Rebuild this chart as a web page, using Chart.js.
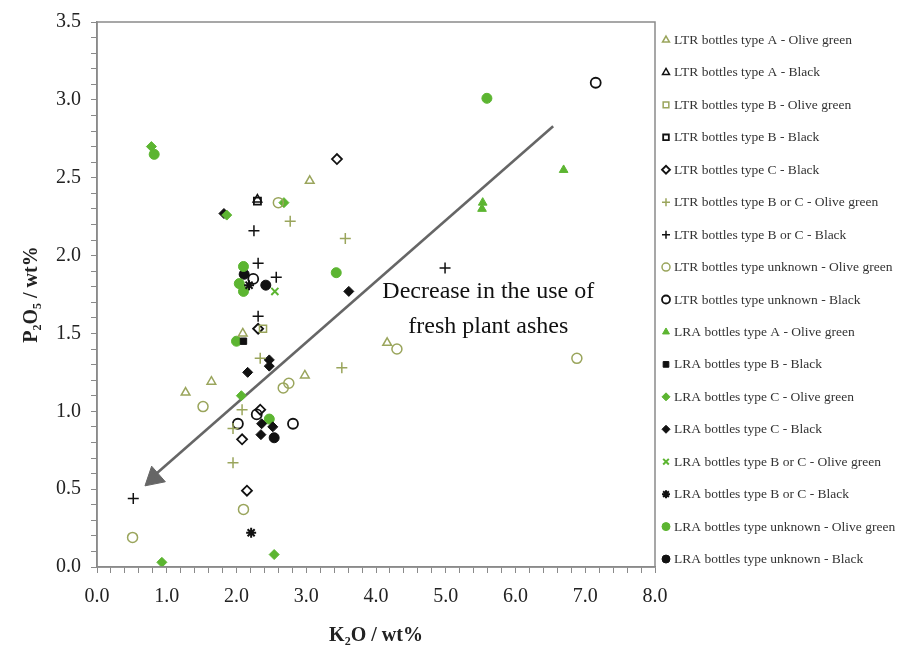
<!DOCTYPE html>
<html>
<head>
<meta charset="utf-8">
<script src="https://cdn.jsdelivr.net/npm/chart.js@4.4.1/dist/chart.umd.min.js"></script>
<style>
html,body{margin:0;padding:0;background:#fff;}
#wrap{position:relative;width:899px;height:649px;}
</style>
</head>
<body>
<div id="wrap"><canvas id="c" width="899" height="649"></canvas></div>
<script>
// ---------- data ----------
const seriesNames = [
  'LTR bottles type A - Olive green',
  'LTR bottles type A - Black',
  'LTR bottles type B - Olive green',
  'LTR bottles type B - Black',
  'LTR bottles type C - Black',
  'LTR bottles type B or C - Olive green',
  'LTR bottles type B or C - Black',
  'LTR bottles type unknown - Olive green',
  'LTR bottles type unknown - Black',
  'LRA bottles type A - Olive green',
  'LRA bottles type B - Black',
  'LRA bottles type C - Olive green',
  'LRA bottles type C - Black',
  'LRA bottles type B or C - Olive green',
  'LRA bottles type B or C - Black',
  'LRA bottles type unknown - Olive green',
  'LRA bottles type unknown - Black'
];
const ltrAOliveX = [1.27, 1.64, 2.09, 2.98, 3.05, 4.16];
const ltrAOliveY = [1.12, 1.19, 1.50, 1.23, 2.48, 1.44];
const ltrABlackX = [2.30];
const ltrABlackY = [2.36];
const ltrBOliveX = [2.38];
const ltrBOliveY = [1.53];
const ltrBBlackX = [2.30];
const ltrBBlackY = [2.35];
const ltrCBlackX = [3.44, 2.31, 2.34, 2.08, 2.15];
const ltrCBlackY = [2.62, 1.53, 1.01, 0.82, 0.49];
const ltrBCOliveX = [2.77, 3.56, 3.51, 2.34, 2.08, 1.95, 1.95];
const ltrBCOliveY = [2.22, 2.11, 1.28, 1.34, 1.01, 0.89, 0.67];
const ltrBCBlackX = [2.25, 2.31, 2.57, 2.31, 4.99, 0.52];
const ltrBCBlackY = [2.16, 1.95, 1.86, 1.61, 1.92, 0.44];
const ltrUnkOliveX = [2.60, 2.67, 2.75, 1.52, 2.10, 0.51, 6.88, 4.30];
const ltrUnkOliveY = [2.34, 1.15, 1.18, 1.03, 0.37, 0.19, 1.34, 1.40];
const ltrUnkBlackX = [7.15, 2.02, 2.29, 2.81, 2.24];
const ltrUnkBlackY = [3.11, 0.92, 0.98, 0.92, 1.85];
const lraAOliveX = [6.69, 5.53, 5.52];
const lraAOliveY = [2.55, 2.34, 2.30];
const lraBBlackX = [2.10];
const lraBBlackY = [1.45];
const lraCOliveX = [0.78, 1.86, 2.68, 2.07, 2.54, 0.93];
const lraCOliveY = [2.70, 2.26, 2.34, 1.10, 0.08, 0.03];
const lraCBlackX = [1.82, 2.47, 2.47, 2.16, 2.36, 2.52, 2.35, 3.61];
const lraCBlackY = [2.27, 1.33, 1.29, 1.25, 0.92, 0.90, 0.85, 1.77];
const lraBCOliveX = [2.55];
const lraBCOliveY = [1.77];
const lraBCBlackX = [2.21, 2.18];
const lraBCBlackY = [0.22, 1.81];
const lraUnkOliveX = [0.82, 5.59, 3.43, 2.10, 2.04, 2.10, 2.00, 2.47];
const lraUnkOliveY = [2.65, 3.01, 1.89, 1.93, 1.82, 1.77, 1.45, 0.95];
const lraUnkBlackX = [2.11, 2.42, 2.54];
const lraUnkBlackY = [1.88, 1.81, 0.83];

// arrow annotation (start, end) in data units
const arrowX = [6.54, 0.80];
const arrowY = [2.83, 0.58];
const arrowHeadX = [0.817];
const arrowHeadY = [0.572];
const annotationLines = ['Decrease in the use of', 'fresh plant ashes'];
const annotationX = 5.61;
const annotationY = [1.77, 1.545];

const xTitle = 'K\u2082O / wt%';
const yTitle = 'P\u2082O\u2085 / wt%';

// ---------- styles ----------
const OLIVE = '#9aa55c';
const GREEN = '#5cb531';
const BLACK = '#111111';
const NONE = 'rgba(255,255,255,0)';

const styles = [
  {ps:'triangle', bg:NONE, bc:OLIVE, r:5, bw:1.5},
  {ps:'triangle', bg:NONE, bc:BLACK, r:5, bw:1.5},
  {ps:'rect', bg:NONE, bc:OLIVE, r:5, bw:1.5},
  {ps:'rect', bg:NONE, bc:BLACK, r:5, bw:1.8},
  {ps:'rectRot', bg:NONE, bc:BLACK, r:5, bw:1.8},
  {ps:'cross', bg:NONE, bc:OLIVE, r:5.5, bw:1.5},
  {ps:'cross', bg:NONE, bc:BLACK, r:5.5, bw:1.5},
  {ps:'circle', bg:NONE, bc:OLIVE, r:5, bw:1.5},
  {ps:'circle', bg:NONE, bc:BLACK, r:5, bw:1.8},
  {ps:'triangle', bg:GREEN, bc:GREEN, r:5, bw:1},
  {ps:'rect', bg:BLACK, bc:BLACK, r:4.5, bw:1},
  {ps:'rectRot', bg:GREEN, bc:GREEN, r:5, bw:1},
  {ps:'rectRot', bg:BLACK, bc:BLACK, r:5, bw:1},
  {ps:'crossRot', bg:NONE, bc:GREEN, r:5, bw:2},
  {ps:'star', bg:BLACK, bc:BLACK, r:5, bw:2},
  {ps:'circle', bg:GREEN, bc:GREEN, r:5, bw:1},
  {ps:'circle', bg:BLACK, bc:BLACK, r:5, bw:1}
];

const xs = [ltrAOliveX, ltrABlackX, ltrBOliveX, ltrBBlackX, ltrCBlackX, ltrBCOliveX, ltrBCBlackX,
  ltrUnkOliveX, ltrUnkBlackX, lraAOliveX, lraBBlackX, lraCOliveX, lraCBlackX, lraBCOliveX,
  lraBCBlackX, lraUnkOliveX, lraUnkBlackX];
const ys = [ltrAOliveY, ltrABlackY, ltrBOliveY, ltrBBlackY, ltrCBlackY, ltrBCOliveY, ltrBCBlackY,
  ltrUnkOliveY, ltrUnkBlackY, lraAOliveY, lraBBlackY, lraCOliveY, lraCBlackY, lraBCOliveY,
  lraBCBlackY, lraUnkOliveY, lraUnkBlackY];

function pts(X, Y){ return X.map((x,i)=>({x:x, y:Y[i]})); }

const datasets = seriesNames.map((name, i) => ({
  label: name,
  data: pts(xs[i], ys[i]),
  pointStyle: styles[i].ps,
  pointRadius: styles[i].r,
  pointHoverRadius: styles[i].r,
  pointBackgroundColor: styles[i].bg,
  pointBorderColor: styles[i].bc,
  pointBorderWidth: styles[i].bw,
  showLine: false
}));

datasets.push({
  label: '_arrow',
  data: pts(arrowX, arrowY),
  showLine: true,
  borderColor: '#666666',
  borderWidth: 2.6,
  pointRadius: 0,
  fill: false
});
datasets.push({
  label: '_arrowhead',
  data: pts(arrowHeadX, arrowHeadY),
  showLine: false,
  pointStyle: 'triangle',
  pointRadius: 12,
  pointRotation: 228.7,
  pointBackgroundColor: '#666666',
  pointBorderColor: '#666666',
  pointBorderWidth: 1
});

const SERIF = '"Liberation Serif", "Times New Roman", "DejaVu Serif", serif';

function drawMarker(ctx, st, x, y, r){
  ctx.save();
  ctx.fillStyle = st.bg;
  ctx.strokeStyle = st.bc;
  ctx.lineWidth = st.bw;
  if (Chart.helpers && Chart.helpers.drawPoint) {
    Chart.helpers.drawPoint(ctx, {pointStyle: st.ps, radius: r, rotation: 0, borderWidth: st.bw}, x, y);
  }
  ctx.restore();
}

const extras = {
  id: 'extras',
  afterDraw(chart){
    const ctx = chart.ctx;
    const a = chart.chartArea;
    ctx.save();
    ctx.strokeStyle = '#8a8a8a';
    ctx.lineWidth = 1.5;
    ctx.strokeRect(a.left, a.top, a.right - a.left, a.bottom - a.top);
    ctx.restore();
    const xs_ = chart.scales.x, ys_ = chart.scales.y;
    ctx.save();
    ctx.fillStyle = '#111';
    ctx.font = '24px ' + SERIF;
    ctx.textAlign = 'center';
    ctx.textBaseline = 'middle';
    annotationLines.forEach((t, i) => {
      ctx.fillText(t, xs_.getPixelForValue(annotationX), ys_.getPixelForValue(annotationY[i]));
    });
    ctx.restore();
    const lx = a.right + 11, ly0 = 40, step = 32.44;
    ctx.save();
    ctx.font = '13.5px ' + SERIF;
    ctx.textAlign = 'left';
    ctx.textBaseline = 'middle';
    seriesNames.forEach((name, i) => {
      const y = ly0 + i * step;
      drawMarker(ctx, styles[i], lx, y, 4);
      ctx.fillStyle = '#333';
      ctx.fillText(name, lx + 8, y + 0.5);
    });
    ctx.restore();
  }
};

function isMultiple(v, m){ const q = v / m; return Math.abs(q - Math.round(q)) < 1e-6; }

new Chart(document.getElementById('c'), {
  type: 'scatter',
  data: { datasets: datasets },
  options: {
    responsive: false,
    animation: false,
    events: [],
    layout: { padding: { left: 0, right: 244, top: 22, bottom: 0 } },
    plugins: { legend: { display: false }, tooltip: { enabled: false } },
    scales: {
      x: {
        type: 'linear', min: 0, max: 8,
        afterFit(s){ s.height = 82; },
        border: { display: true, color: '#8a8a8a', width: 1.5 },
        grid: { drawOnChartArea: false, drawTicks: true, tickLength: 6, color: '#8a8a8a', lineWidth: 1 },
        ticks: {
          stepSize: 0.2, autoSkip: false, maxRotation: 0, padding: 12,
          color: '#222', font: { family: SERIF, size: 20 },
          callback: (v) => isMultiple(v, 1) ? Number(v).toFixed(1) : ''
        },
        title: { display: true, text: xTitle, color: '#222', font: { family: SERIF, size: 20, weight: 'bold' }, padding: { top: 4, bottom: 1 } }
      },
      y: {
        type: 'linear', min: 0, max: 3.5,
        afterFit(s){ s.width = 97; },
        border: { display: true, color: '#8a8a8a', width: 1.5 },
        grid: { drawOnChartArea: false, drawTicks: true, tickLength: 6, color: '#8a8a8a', lineWidth: 1 },
        ticks: {
          stepSize: 0.1, autoSkip: false, padding: 10,
          color: '#222', font: { family: SERIF, size: 20 },
          callback: (v) => isMultiple(v, 0.5) ? Number(v).toFixed(1) : ''
        },
        title: { display: true, text: yTitle, color: '#222', font: { family: SERIF, size: 20, weight: 'bold' }, padding: { top: 20, bottom: 4 } }
      }
    }
  },
  plugins: [extras]
});
</script>
</body>
</html>
